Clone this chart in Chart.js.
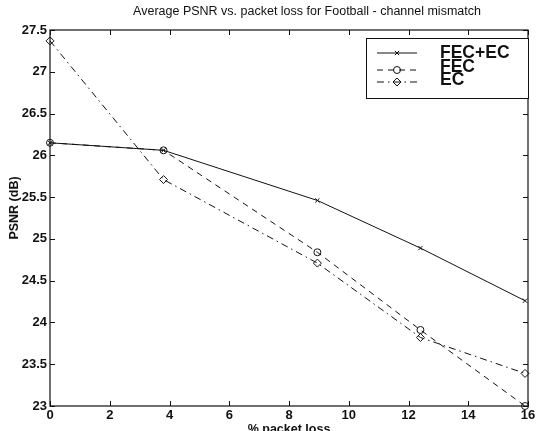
<!DOCTYPE html>
<html><head><meta charset="utf-8">
<script src="https://cdn.jsdelivr.net/npm/chart.js@4/dist/chart.umd.min.js"></script>
<style>html,body{margin:0;padding:0;background:#fff}#wrap{width:539px;height:431px}</style>
</head><body><div id="wrap"><canvas id="c" width="539" height="431"></canvas></div>
<script>
const packetLoss = [0, 3.8, 8.95, 12.4, 15.9];
const fecEc = [26.15, 26.06, 25.46, 24.89, 24.26];
const fec = [26.15, 26.06, 24.84, 23.91, 23.0];
const ec = [27.37, 25.71, 24.71, 23.82, 23.39];
const seriesNames = ['FEC+EC', 'FEC', 'EC'];
const xTickValues = [0, 2, 4, 6, 8, 10, 12, 14, 16];
const yTickValues = [23, 23.5, 24, 24.5, 25, 25.5, 26, 26.5, 27, 27.5];
const titleText = 'Average PSNR vs. packet loss for Football - channel mismatch';
const xTitle = '% packet loss';
const yTitle = 'PSNR (dB)';

const pts = arr => packetLoss.map((x, i) => ({x: x, y: arr[i]}));
const INK = '#111';

const decor = {
  id: 'decor',
  afterDatasetsDraw(chart) {
    const ctx = chart.ctx, a = chart.chartArea;
    const xs = chart.scales.x, ys = chart.scales.y;
    ctx.save();
    ctx.strokeStyle = INK;
    ctx.lineWidth = 1.2;
    ctx.strokeRect(a.left, a.top, a.right - a.left, a.bottom - a.top);
    ctx.lineWidth = 1;
    ctx.beginPath();
    xTickValues.forEach(v => {
      const px = Math.round(xs.getPixelForValue(v)) + 0.5;
      ctx.moveTo(px, a.bottom); ctx.lineTo(px, a.bottom - 5);
      ctx.moveTo(px, a.top); ctx.lineTo(px, a.top + 5);
    });
    yTickValues.forEach(v => {
      const py = Math.round(ys.getPixelForValue(v)) + 0.5;
      ctx.moveTo(a.left, py); ctx.lineTo(a.left + 5, py);
      ctx.moveTo(a.right, py); ctx.lineTo(a.right - 5, py);
    });
    ctx.stroke();

    // title
    ctx.fillStyle = INK;
    ctx.font = '12.5px "Liberation Sans", Arial, sans-serif';
    ctx.textAlign = 'center';
    ctx.textBaseline = 'middle';
    ctx.fillText(titleText, 307, 12);
    // axis titles
    ctx.font = 'bold 12.5px "Liberation Sans", Arial, sans-serif';
    ctx.fillText(xTitle, (a.left + a.right) / 2, 430);
    ctx.save();
    ctx.translate(15, 208);
    ctx.rotate(-Math.PI / 2);
    ctx.fillText(yTitle, 0, 0);
    ctx.restore();

    // legend
    const bx = 366, by = 38, bw = a.right - 366, bh = 60;
    ctx.fillStyle = '#fff';
    ctx.fillRect(bx, by, bw, bh);
    ctx.strokeStyle = INK;
    ctx.lineWidth = 1;
    ctx.strokeRect(bx + 0.5, by + 0.5, bw, bh);
    const sampleY = [53, 70, 82];
    const textY = [53, 67, 80];
    chart.data.datasets.forEach((ds, i) => {
      ctx.save();
      ctx.strokeStyle = ds.borderColor;
      ctx.lineWidth = ds.borderWidth;
      ctx.setLineDash(ds.borderDash || []);
      ctx.beginPath();
      ctx.moveTo(377, sampleY[i]); ctx.lineTo(417, sampleY[i]);
      ctx.stroke();
      ctx.setLineDash([]);
      ctx.fillStyle = 'rgba(0,0,0,0)';
      ctx.strokeStyle = ds.pointBorderColor;
      Chart.helpers.drawPoint(ctx, {pointStyle: ds.pointStyle, radius: ds.pointRadius, borderWidth: 1, rotation: 0}, 397, sampleY[i]);
      ctx.restore();
      ctx.fillStyle = INK;
      ctx.font = 'bold 17.5px "Liberation Sans", Arial, sans-serif';
      ctx.textAlign = 'left';
      ctx.textBaseline = 'middle';
      ctx.fillText(ds.label, 440, textY[i]);
    });
    ctx.restore();
  }
};

new Chart(document.getElementById('c'), {
  type: 'scatter',
  data: {
    datasets: [
      {label: seriesNames[0], data: pts(fecEc), showLine: true, borderColor: INK, borderWidth: 1,
       pointStyle: 'crossRot', pointRadius: 3, pointBorderColor: INK, pointBackgroundColor: 'rgba(0,0,0,0)', pointBorderWidth: 1},
      {label: seriesNames[1], data: pts(fec), showLine: true, borderColor: INK, borderWidth: 1, borderDash: [6, 5],
       pointStyle: 'circle', pointRadius: 3.5, pointBorderColor: INK, pointBackgroundColor: 'rgba(0,0,0,0)', pointBorderWidth: 1},
      {label: seriesNames[2], data: pts(ec), showLine: true, borderColor: INK, borderWidth: 1, borderDash: [7, 4, 1.5, 4],
       pointStyle: 'rectRot', pointRadius: 4, pointBorderColor: INK, pointBackgroundColor: 'rgba(0,0,0,0)', pointBorderWidth: 1}
    ]
  },
  options: {
    responsive: false, animation: false, devicePixelRatio: 1,
    clip: false,
    layout: {padding: {top: 30, right: 11, left: 0, bottom: 0}},
    plugins: {legend: {display: false}, tooltip: {enabled: false}, title: {display: false}},
    scales: {
      x: {
        type: 'linear', min: 0, max: 16,
        afterBuildTicks: s => { s.ticks = xTickValues.map(v => ({value: v})); },
        afterFit: s => { s.height = 25; },
        grid: {display: false, drawTicks: false},
        border: {display: false},
        ticks: {color: INK, font: {family: '"Liberation Sans", Arial, sans-serif', size: 13, weight: 'bold'}, padding: 2, maxRotation: 0, autoSkip: false, callback: v => String(v)}
      },
      y: {
        type: 'linear', min: 23, max: 27.5,
        afterBuildTicks: s => { s.ticks = yTickValues.map(v => ({value: v})); },
        afterFit: s => { s.width = 50; },
        grid: {display: false, drawTicks: false},
        border: {display: false},
        ticks: {color: INK, font: {family: '"Liberation Sans", Arial, sans-serif', size: 13, weight: 'bold'}, padding: 3, autoSkip: false, callback: v => String(v)}
      }
    }
  },
  plugins: [decor]
});
</script>
</body></html>
